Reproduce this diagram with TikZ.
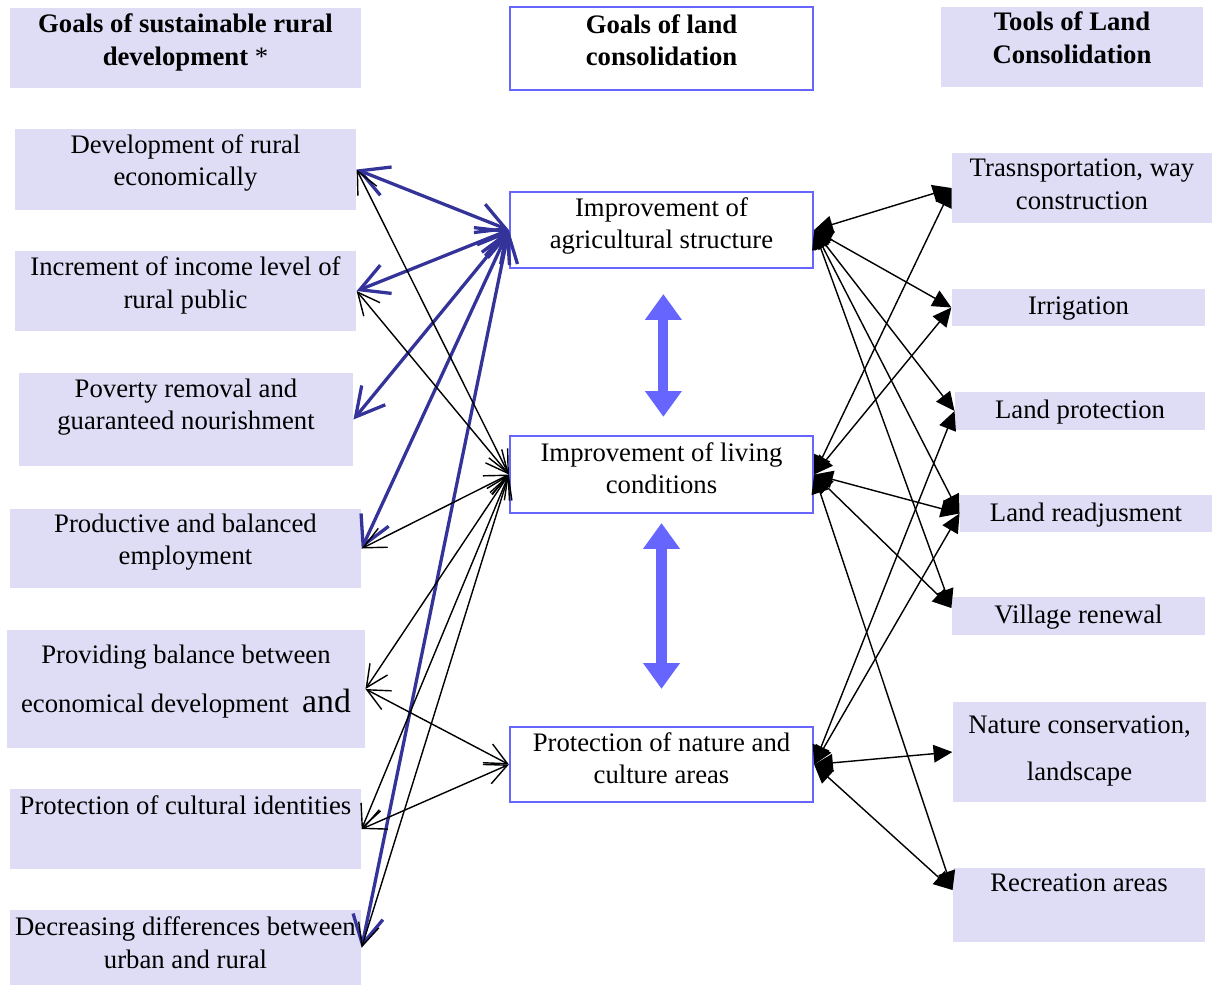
\documentclass[tikz,border=0pt]{standalone}
\usepackage{fontspec}
\setmainfont{Liberation Serif}
\usetikzlibrary{positioning,calc,arrows.meta}
\definecolor{goalfill}{RGB}{222,221,245}
\definecolor{frameblue}{RGB}{102,102,255}
\definecolor{linkblue}{RGB}{51,51,153}

\begin{document}
\begin{tikzpicture}[
        x=0.015cm, y=-0.015cm,
        goalbox/.style={fill=goalfill, inner sep=0pt},
        aimbox/.style={draw=frameblue, fill=white, line width=0.8pt, inner sep=0pt},
        boxtext/.style={anchor=north, align=center, inner sep=0pt, font=\fontsize{11.4}{13.8}\selectfont},
        headtext/.style={boxtext, font=\fontsize{11.4}{13.8}\selectfont\bfseries},
        bluelink/.style={linkblue, line width=1.4pt, {Straight Barb[length=12pt,width=13pt]}-{Straight Barb[length=12pt,width=13pt]}},
        blacklink/.style={black, line width=0.6pt, {Straight Barb[length=9.5pt,width=9pt]}-{Straight Barb[length=9.5pt,width=9pt]}},
        toollink/.style={black, line width=0.6pt, {Triangle[length=8pt,width=7.5pt]}-{Triangle[length=8pt,width=7.5pt]}},
        bigarrow/.style={frameblue, line width=4.3pt, {Triangle[length=11pt,width=15pt]}-{Triangle[length=11pt,width=15pt]}}
    ]
    \useasboundingbox (0,0) rectangle (1213,986);

    % Goals of sustainable rural development
    \node[goalbox, minimum width=5.27cm, minimum height=1.2cm] (l0) at (185.5,48) {};
    \node[headtext] at ($(l0.north)+(0,6)$) {Goals of sustainable rural\\development {\mdseries*}};

    \node[goalbox, minimum width=5.12cm, minimum height=1.22cm] (l1) at (185.5,169.5) {};
    \node[boxtext] at ($(l1.north)+(0,6)$) {Development of rural\\economically};

    \node[goalbox, minimum width=5.12cm, minimum height=1.2cm] (l2) at (185.5,291) {};
    \node[boxtext] at ($(l2.north)+(0,6)$) {Increment of income level of\\rural public};

    \node[goalbox, minimum width=5.01cm, minimum height=1.4cm] (l3) at (186,419.5) {};
    \node[boxtext] at ($(l3.north)+(0,6)$) {Poverty removal and\\guaranteed nourishment};

    \node[goalbox, minimum width=5.27cm, minimum height=1.19cm] (l4) at (185.5,548.5) {};
    \node[boxtext] at ($(l4.north)+(0,5)$) {Productive and balanced\\employment};

    \node[goalbox, minimum width=5.37cm, minimum height=1.77cm] (l5) at (186,689) {};
    \node[boxtext] at ($(l5.north)+(0,15)$) {Providing balance between\\[7pt]economical development~~{\Large and}};

    \node[goalbox, minimum width=5.27cm, minimum height=1.2cm] (l6) at (185.5,829) {};
    \node[boxtext] at ($(l6.north)+(0,7)$) {Protection of cultural identities};

    \node[goalbox, minimum width=5.27cm, minimum height=1.13cm] (l7) at (185.5,947.5) {};
    \node[boxtext] at ($(l7.north)+(0,7)$) {Decreasing differences between\\urban and rural};

    % Goals of land consolidation
    \node[aimbox, minimum width=4.55cm, minimum height=1.25cm] (m0) at (661.5,48.5) {};
    \node[headtext] at ($(m0.north)+(0,8)$) {Goals of land\\consolidation};

    \node[aimbox, minimum width=4.55cm, minimum height=1.14cm] (m1) at (661.5,230) {};
    \node[boxtext] at ($(m1.north)+(0,6)$) {Improvement of\\agricultural structure};

    \node[aimbox, minimum width=4.55cm, minimum height=1.16cm] (m2) at (661.5,474.5) {};
    \node[boxtext] at ($(m2.north)+(0,7)$) {Improvement of living\\conditions};

    \node[aimbox, minimum width=4.55cm, minimum height=1.13cm] (m3) at (661.5,764.5) {};
    \node[boxtext] at ($(m3.north)+(0,6)$) {Protection of nature and\\culture areas};

    % Tools of land consolidation
    \node[goalbox, minimum width=3.93cm, minimum height=1.2cm] (r0) at (1072,47) {};
    \node[headtext] at ($(r0.north)+(0,5)$) {Tools of Land\\Consolidation};

    \node[goalbox, minimum width=3.9cm, minimum height=1.05cm] (r1) at (1082,188) {};
    \node[boxtext] at ($(r1.north)+(0,6)$) {Trasnsportation, way\\construction};

    \node[goalbox, minimum width=3.8cm, minimum height=0.56cm] (r2) at (1078.5,307.5) {};
    \node[boxtext] at ($(r2.north)+(0,8)$) {Irrigation};

    \node[goalbox, minimum width=3.75cm, minimum height=0.57cm] (r3) at (1080,411) {};
    \node[boxtext] at ($(r3.north)+(0,8)$) {Land protection};

    \node[goalbox, minimum width=3.78cm, minimum height=0.56cm] (r4) at (1086,513.5) {};
    \node[boxtext] at ($(r4.north)+(0,8)$) {Land readjusment};

    \node[goalbox, minimum width=3.8cm, minimum height=0.57cm] (r5) at (1078.5,616) {};
    \node[boxtext] at ($(r5.north)+(0,8)$) {Village renewal};

    \node[goalbox, minimum width=3.8cm, minimum height=1.5cm] (r6) at (1079.5,752) {};
    \node[boxtext] at ($(r6.north)+(0,14)$) {Nature conservation,\\[6pt]landscape};

    \node[goalbox, minimum width=3.78cm, minimum height=1.11cm] (r7) at (1079,905) {};
    \node[boxtext] at ($(r7.north)+(0,6)$) {Recreation areas};

    % Links between the goals of land consolidation
    \draw[bigarrow, shorten <=10.7pt, shorten >=7.7pt] ([xshift=0.8pt]m1.south) -- ([xshift=0.8pt]m2.north);
    \draw[bigarrow, shorten <=3.8pt, shorten >=15.8pt] (m2.south) -- (m3.north);

    % Left side links
    \foreach \g in {l1,l2,l3,l4,l7}
        \draw[bluelink] (m1.west) -- (\g.east);
    \foreach \g in {l1,l2,l4,l5,l6,l7}
        \draw[blacklink] (m2.west) -- (\g.east);
    \foreach \g in {l5,l6}
        \draw[blacklink] (m3.west) -- (\g.east);

    % Right side links
    \foreach \t in {r1,r2,r3,r4}
        \draw[toollink] (m1.east) -- (\t.west);
    \draw[toollink] (m1.east) -- ([yshift=3.4pt]r5.west);
    \foreach \t in {r1,r2,r4}
        \draw[toollink] (m2.east) -- (\t.west);
    \draw[toollink] (m2.east) -- ([yshift=3.4pt]r5.west);
    \draw[toollink] (m2.east) -- ([yshift=6.4pt]r7.west);
    \foreach \t in {r3,r4,r6}
        \draw[toollink] (m3.east) -- (\t.west);
    \draw[toollink] (m3.east) -- ([yshift=6.4pt]r7.west);

\end{tikzpicture}
\end{document}
